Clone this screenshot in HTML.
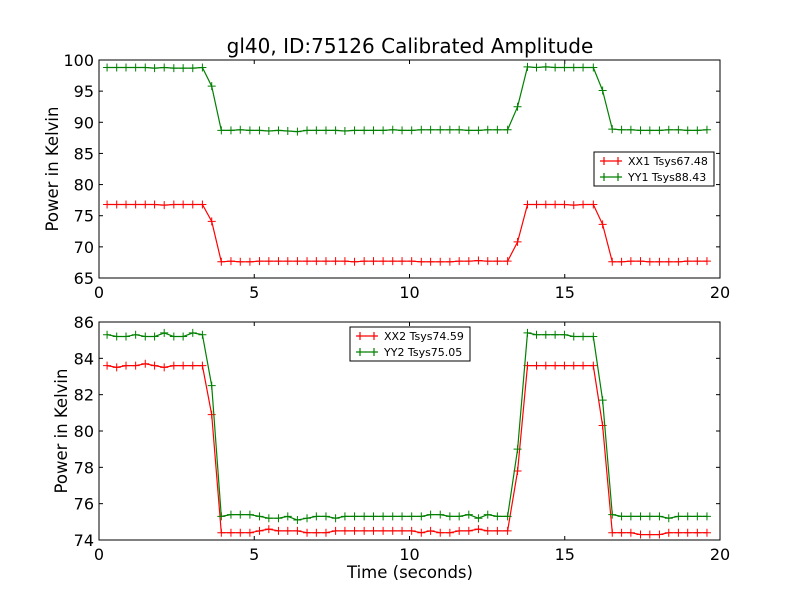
<!DOCTYPE html>
<html><head><meta charset="utf-8"><style>
body{margin:0;background:#fff}
svg{display:block;font-family:"DejaVu Sans","Liberation Sans",sans-serif}
</style></head><body>
<svg id="chart" width="800" height="600" viewBox="0 0 800 600">
<rect width="800" height="600" fill="#fff"/>
<text x="410" y="53" font-size="20" text-anchor="middle">gl40, ID:75126 Calibrated Amplitude</text>
<text x="410" y="578" font-size="16.5" text-anchor="middle">Time (seconds)</text>
<text transform="translate(58,169) rotate(-90)" font-size="16.5" text-anchor="middle">Power in Kelvin</text>
<text transform="translate(67,431) rotate(-90)" font-size="16.5" text-anchor="middle">Power in Kelvin</text>
</svg>
<script>
const times=[0.26,0.57,0.87,1.18,1.49,1.79,2.10,2.41,2.71,3.02,3.33,3.63,3.94,4.25,4.55,4.86,5.17,5.47,5.78,6.08,6.39,6.70,7.00,7.31,7.62,7.92,8.23,8.54,8.84,9.15,9.46,9.76,10.07,10.38,10.68,10.99,11.30,11.60,11.91,12.22,12.52,12.83,13.16,13.48,13.80,14.09,14.39,14.69,14.99,15.29,15.59,15.92,16.22,16.53,16.83,17.13,17.44,17.74,18.05,18.35,18.66,18.96,19.27,19.58];
const xx1=[76.8,76.8,76.8,76.8,76.8,76.8,76.7,76.8,76.8,76.8,76.8,74.1,67.6,67.7,67.6,67.6,67.7,67.7,67.7,67.7,67.7,67.7,67.7,67.7,67.7,67.7,67.6,67.7,67.7,67.7,67.7,67.7,67.7,67.6,67.6,67.6,67.6,67.7,67.7,67.8,67.7,67.7,67.7,70.8,76.8,76.8,76.8,76.8,76.8,76.7,76.8,76.8,73.6,67.6,67.6,67.7,67.7,67.6,67.6,67.6,67.6,67.7,67.7,67.7];
const yy1=[98.8,98.8,98.8,98.8,98.8,98.7,98.8,98.7,98.7,98.7,98.8,95.8,88.7,88.7,88.8,88.7,88.7,88.6,88.7,88.6,88.5,88.7,88.7,88.7,88.7,88.6,88.7,88.7,88.7,88.7,88.8,88.7,88.7,88.8,88.8,88.8,88.8,88.8,88.7,88.7,88.8,88.8,88.8,92.5,98.9,98.8,98.9,98.8,98.8,98.8,98.8,98.8,95.1,88.9,88.8,88.8,88.7,88.7,88.7,88.8,88.8,88.7,88.7,88.8];
const xx2=[83.6,83.5,83.6,83.6,83.7,83.6,83.5,83.6,83.6,83.6,83.6,80.9,74.4,74.4,74.4,74.4,74.5,74.6,74.5,74.5,74.5,74.4,74.4,74.4,74.5,74.5,74.5,74.5,74.5,74.5,74.5,74.5,74.5,74.4,74.5,74.4,74.4,74.5,74.5,74.6,74.5,74.5,74.5,77.8,83.6,83.6,83.6,83.6,83.6,83.6,83.6,83.6,80.3,74.4,74.4,74.4,74.3,74.3,74.3,74.4,74.4,74.4,74.4,74.4];
const yy2=[85.3,85.2,85.2,85.3,85.2,85.2,85.4,85.2,85.2,85.4,85.3,82.5,75.3,75.4,75.4,75.4,75.3,75.2,75.2,75.3,75.1,75.2,75.3,75.3,75.2,75.3,75.3,75.3,75.3,75.3,75.3,75.3,75.3,75.3,75.4,75.4,75.3,75.3,75.4,75.2,75.4,75.3,75.3,79.0,85.4,85.3,85.3,85.3,85.3,85.2,85.2,85.2,81.7,75.4,75.3,75.3,75.3,75.3,75.3,75.2,75.3,75.3,75.3,75.3];
const xTicks=[0,5,10,15,20];
const topYTicks=[65,70,75,80,85,90,95,100];
const botYTicks=[74,76,78,80,82,84,86];
const NS="http://www.w3.org/2000/svg";
const svg=document.getElementById('chart');
function mk(tag,attrs,parent){const e=document.createElementNS(NS,tag);for(const k in attrs)e.setAttribute(k,attrs[k]);(parent||svg).appendChild(e);return e;}
function panel(name,top,bottom,ymin,ymax,yticks,series,legend){
  const L=99,R=720;
  const xs=t=>L+(t-0)/(20-0)*(R-L);
  const ys=v=>bottom-(v-ymin)/(ymax-ymin)*(bottom-top);
  const g=mk('g',{});
  
  
  xTicks.forEach(t=>{
    const x=xs(t);
    const a=mk('line',{x1:x,x2:x,y1:bottom,y2:bottom-4,stroke:'#000'},g);
    
    
    mk('line',{x1:x,x2:x,y1:top,y2:top+4,stroke:'#000'},g);
    const tx=mk('text',{x:x,y:bottom+20,'font-size':16,'text-anchor':'middle'},g);
    tx.textContent=t;
    
    
  });
  yticks.forEach(v=>{
    const y=ys(v);
    mk('line',{x1:L,x2:L+4,y1:y,y2:y,stroke:'#000'},g);
    mk('line',{x1:R,x2:R-4,y1:y,y2:y,stroke:'#000'},g);
    const tx=mk('text',{x:L-5,y:y+6,'font-size':16,'text-anchor':'end'},g);
    tx.textContent=v;
    
    
  });
  series.forEach(s=>{
    const pts=times.map((t,i)=>xs(t).toFixed(1)+','+ys(s.vals[i]).toFixed(1)).join(' ');
    const pl=mk('polyline',{points:pts,fill:'none',stroke:s.color,'stroke-width':1.2},g);
    
    
    times.forEach((t,i)=>{
      const x=xs(t),y=ys(s.vals[i]);
      const p=mk('path',{d:`M${x-4},${y}H${x+4}M${x},${y-4}V${y+4}`,stroke:s.color,'stroke-width':1},g);
      
      
    });
  });
  const fr=mk('rect',{x:L,y:top,width:R-L,height:bottom-top,fill:'none',stroke:'#000','stroke-width':1},g);
  
  
  const lg=mk('g',{},g);
  
  
  mk('rect',{x:legend.x,y:legend.y,width:120,height:34,fill:'#fff',stroke:'#000','stroke-width':1},lg);
  series.forEach((s,i)=>{
    const y=legend.y+9+i*16;
    const e=mk('g',{},lg);
    
    
    mk('path',{d:`M${legend.x+6},${y}H${legend.x+28}M${legend.x+10},${y-4}V${y+4}M${legend.x+24},${y-4}V${y+4}`,stroke:s.color,'stroke-width':1.2},e);
    const tx=mk('text',{x:legend.x+34,y:y+4,'font-size':11},e);
    tx.textContent=s.label;
  });
}
panel('top',60,278,65,100,topYTicks,[
  {name:'xx1',vals:xx1,color:'#ff0000',label:'XX1 Tsys67.48'},
  {name:'yy1',vals:yy1,color:'#008000',label:'YY1 Tsys88.43'}],{x:594,y:152});
panel('bottom',322,540,74,86,botYTicks,[
  {name:'xx2',vals:xx2,color:'#ff0000',label:'XX2 Tsys74.59'},
  {name:'yy2',vals:yy2,color:'#008000',label:'YY2 Tsys75.05'}],{x:350,y:327});
</script>
</body></html>
